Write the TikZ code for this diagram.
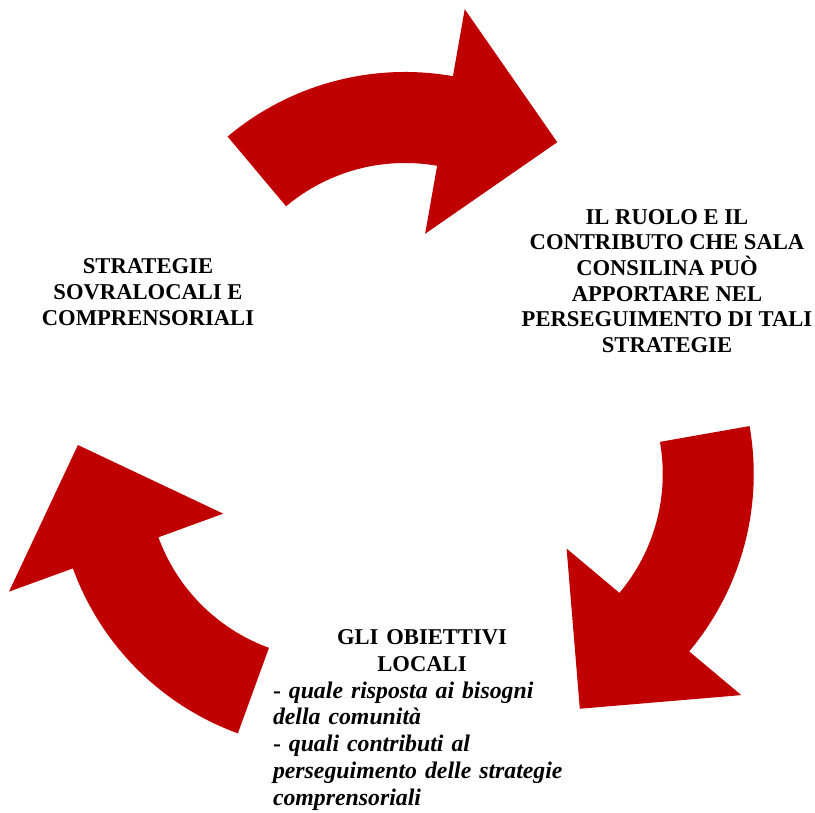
\documentclass[tikz,border=0pt]{standalone}
\usepackage{fontspec}
\setmainfont{Liberation Serif}
\usepackage{tikz}
\usepackage{xcolor}
\usetikzlibrary{calc}
\definecolor{cyclered}{HTML}{C00000}

\begin{document}
\begin{tikzpicture}[x=0.5pt,y=0.5pt]

\tikzstyle{cyclearrow}=[
  fill=cyclered
]

\tikzstyle{phase}=[
  inner sep=0pt,
  align=center,
  font=\fontsize{11.3}{13}\selectfont\bfseries
]

\useasboundingbox (0,0) rectangle (815,813);

% Centres of the three arrows
\coordinate (mid) at (405,381);
\coordinate (ctop) at ($(mid)+(90:84)$);
\coordinate (cright) at ($(mid)+(-30:84)$);
\coordinate (cleft) at ($(mid)+(210:84)$);

% Top arrow
\fill[cyclearrow]
($(ctop)+(130:276)$) arc[start angle=130, end angle=80, radius=276]
-- ($(ctop)+(80:344)$) -- ($(ctop)+(53.5:256)$) -- ($(ctop)+(80:116)$)
-- ($(ctop)+(80:185)$) arc[start angle=80, end angle=130, radius=185]
-- cycle;

% Right arrow
\fill[cyclearrow]
($(cright)+(10:276)$) arc[start angle=10, end angle=-40, radius=276]
-- ($(cright)+(-40:344)$) -- ($(cright)+(-66.5:256)$) -- ($(cright)+(-40:116)$)
-- ($(cright)+(-40:185)$) arc[start angle=-40, end angle=10, radius=185]
-- cycle;

% Left arrow
\fill[cyclearrow]
($(cleft)+(250:276)$) arc[start angle=250, end angle=200, radius=276]
-- ($(cleft)+(200:344)$) -- ($(cleft)+(173.5:256)$) -- ($(cleft)+(200:116)$)
-- ($(cleft)+(200:185)$) arc[start angle=200, end angle=250, radius=185]
-- cycle;

% Texts
\node[phase] (strategie) at (148,521)
{STRATEGIE\\SOVRALOCALI E\\COMPRENSORIALI};

\node[phase, font=\fontsize{11.3}{12.85}\selectfont\bfseries] (ruolo) at (667,532)
{IL RUOLO E IL\\CONTRIBUTO CHE SALA\\CONSILINA PUÒ\\APPORTARE NEL\\PERSEGUIMENTO DI TALI\\STRATEGIE};

\node[phase, text width=149pt, align=left, font=\fontsize{11.9}{13.35}\selectfont\bfseries] (obiettivi) at (422,93)
{\makebox[149pt]{\fontsize{11.3}{13.35}\selectfont GLI OBIETTIVI}\\
\makebox[149pt]{\fontsize{11.3}{13.35}\selectfont LOCALI}\\
- \textit{quale risposta ai bisogni}\\
\textit{della comunità}\\
- \textit{quali contributi al}\\
\textit{perseguimento delle strategie}\\
\textit{comprensoriali}};

\end{tikzpicture}
\end{document}
